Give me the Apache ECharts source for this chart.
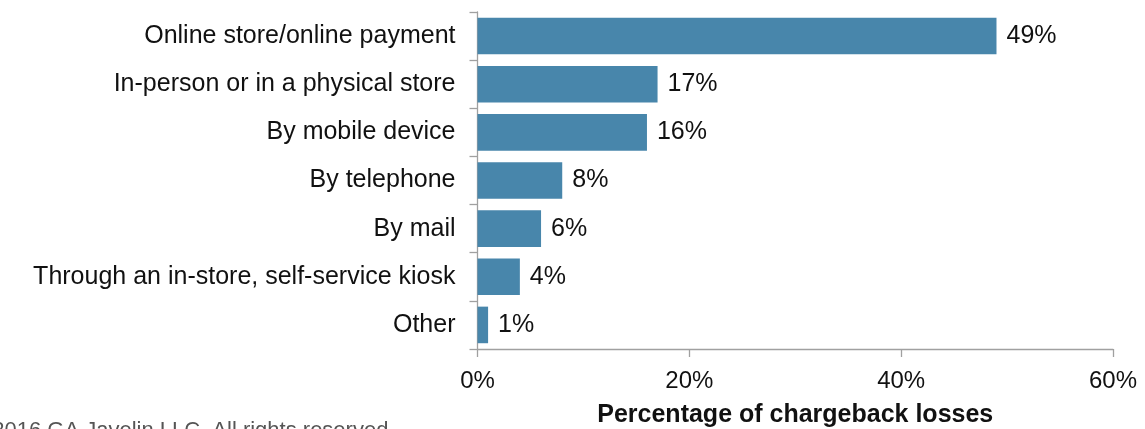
<!DOCTYPE html>
<html>
<head>
<meta charset="utf-8">
<style>
  html, body { margin: 0; padding: 0; background: #ffffff; }
  #chart { width: 1145px; height: 429px; }
</style>
<script src="https://cdn.jsdelivr.net/npm/echarts@6/dist/echarts.min.js"></script>
</head>
<body>
<div id="chart"></div>
<script>
// Channels, listed top to bottom
const categories = [
  'Online store/online payment',
  'In-person or in a physical store',
  'By mobile device',
  'By telephone',
  'By mail',
  'Through an in-store, self-service kiosk',
  'Other'
];
// Share of chargeback losses, percent
const values = [49, 17, 16, 8, 6, 4, 1];
const xTicks = [0, 20, 40, 60];
const axisTitle = 'Percentage of chargeback losses';
const footer = '\u00A92016 GA Javelin LLC. All rights reserved';

const FONT = '"Liberation Sans", Arial, sans-serif';
const axisGrey = '#a0a0a0';

const chart = echarts.init(document.getElementById('chart'), null, { renderer: 'canvas' });
chart.setOption({
  animation: false,
  backgroundColor: '#ffffff',
  textStyle: { fontFamily: FONT },
  grid: {
    left: 477.5, right: 32, top: 12, bottom: 80,
    containLabel: false,
    outerBoundsMode: 'none'
  },
  xAxis: {
    type: 'value',
    min: xTicks[0],
    max: xTicks[xTicks.length - 1],
    interval: xTicks[1] - xTicks[0],
    axisLine: { show: true, lineStyle: { color: axisGrey, width: 1.3 } },
    axisTick: { show: true, length: 8, lineStyle: { color: axisGrey, width: 1.3 } },
    splitLine: { show: false },
    axisLabel: {
      margin: 20,
      color: '#111',
      fontSize: 24,
      fontFamily: FONT,
      formatter: v => v + '%'
    },
    name: axisTitle,
    nameLocation: 'middle',
    nameGap: 54,
    nameTextStyle: { color: '#111', fontSize: 25, fontWeight: 'bold', fontFamily: FONT }
  },
  yAxis: {
    type: 'category',
    inverse: true,
    data: categories,
    axisLine: { show: true, lineStyle: { color: axisGrey, width: 1.3 } },
    axisTick: { show: true, length: 8, lineStyle: { color: axisGrey, width: 1.3 } },
    axisLabel: { margin: 22, color: '#111', fontSize: 25, fontFamily: FONT }
  },
  series: [{
    type: 'bar',
    data: values,
    barCategoryGap: '24%',
    itemStyle: { color: '#4886ab' },
    label: {
      show: true,
      position: 'right',
      distance: 10,
      color: '#111',
      fontSize: 25,
      fontFamily: FONT,
      formatter: p => p.value + '%'
    }
  }],
  graphic: [{
    type: 'text',
    left: -24,
    top: 420,
    style: { text: footer, fill: '#555', fontSize: 22, fontFamily: FONT }
  }]
});
</script>
</body>
</html>
